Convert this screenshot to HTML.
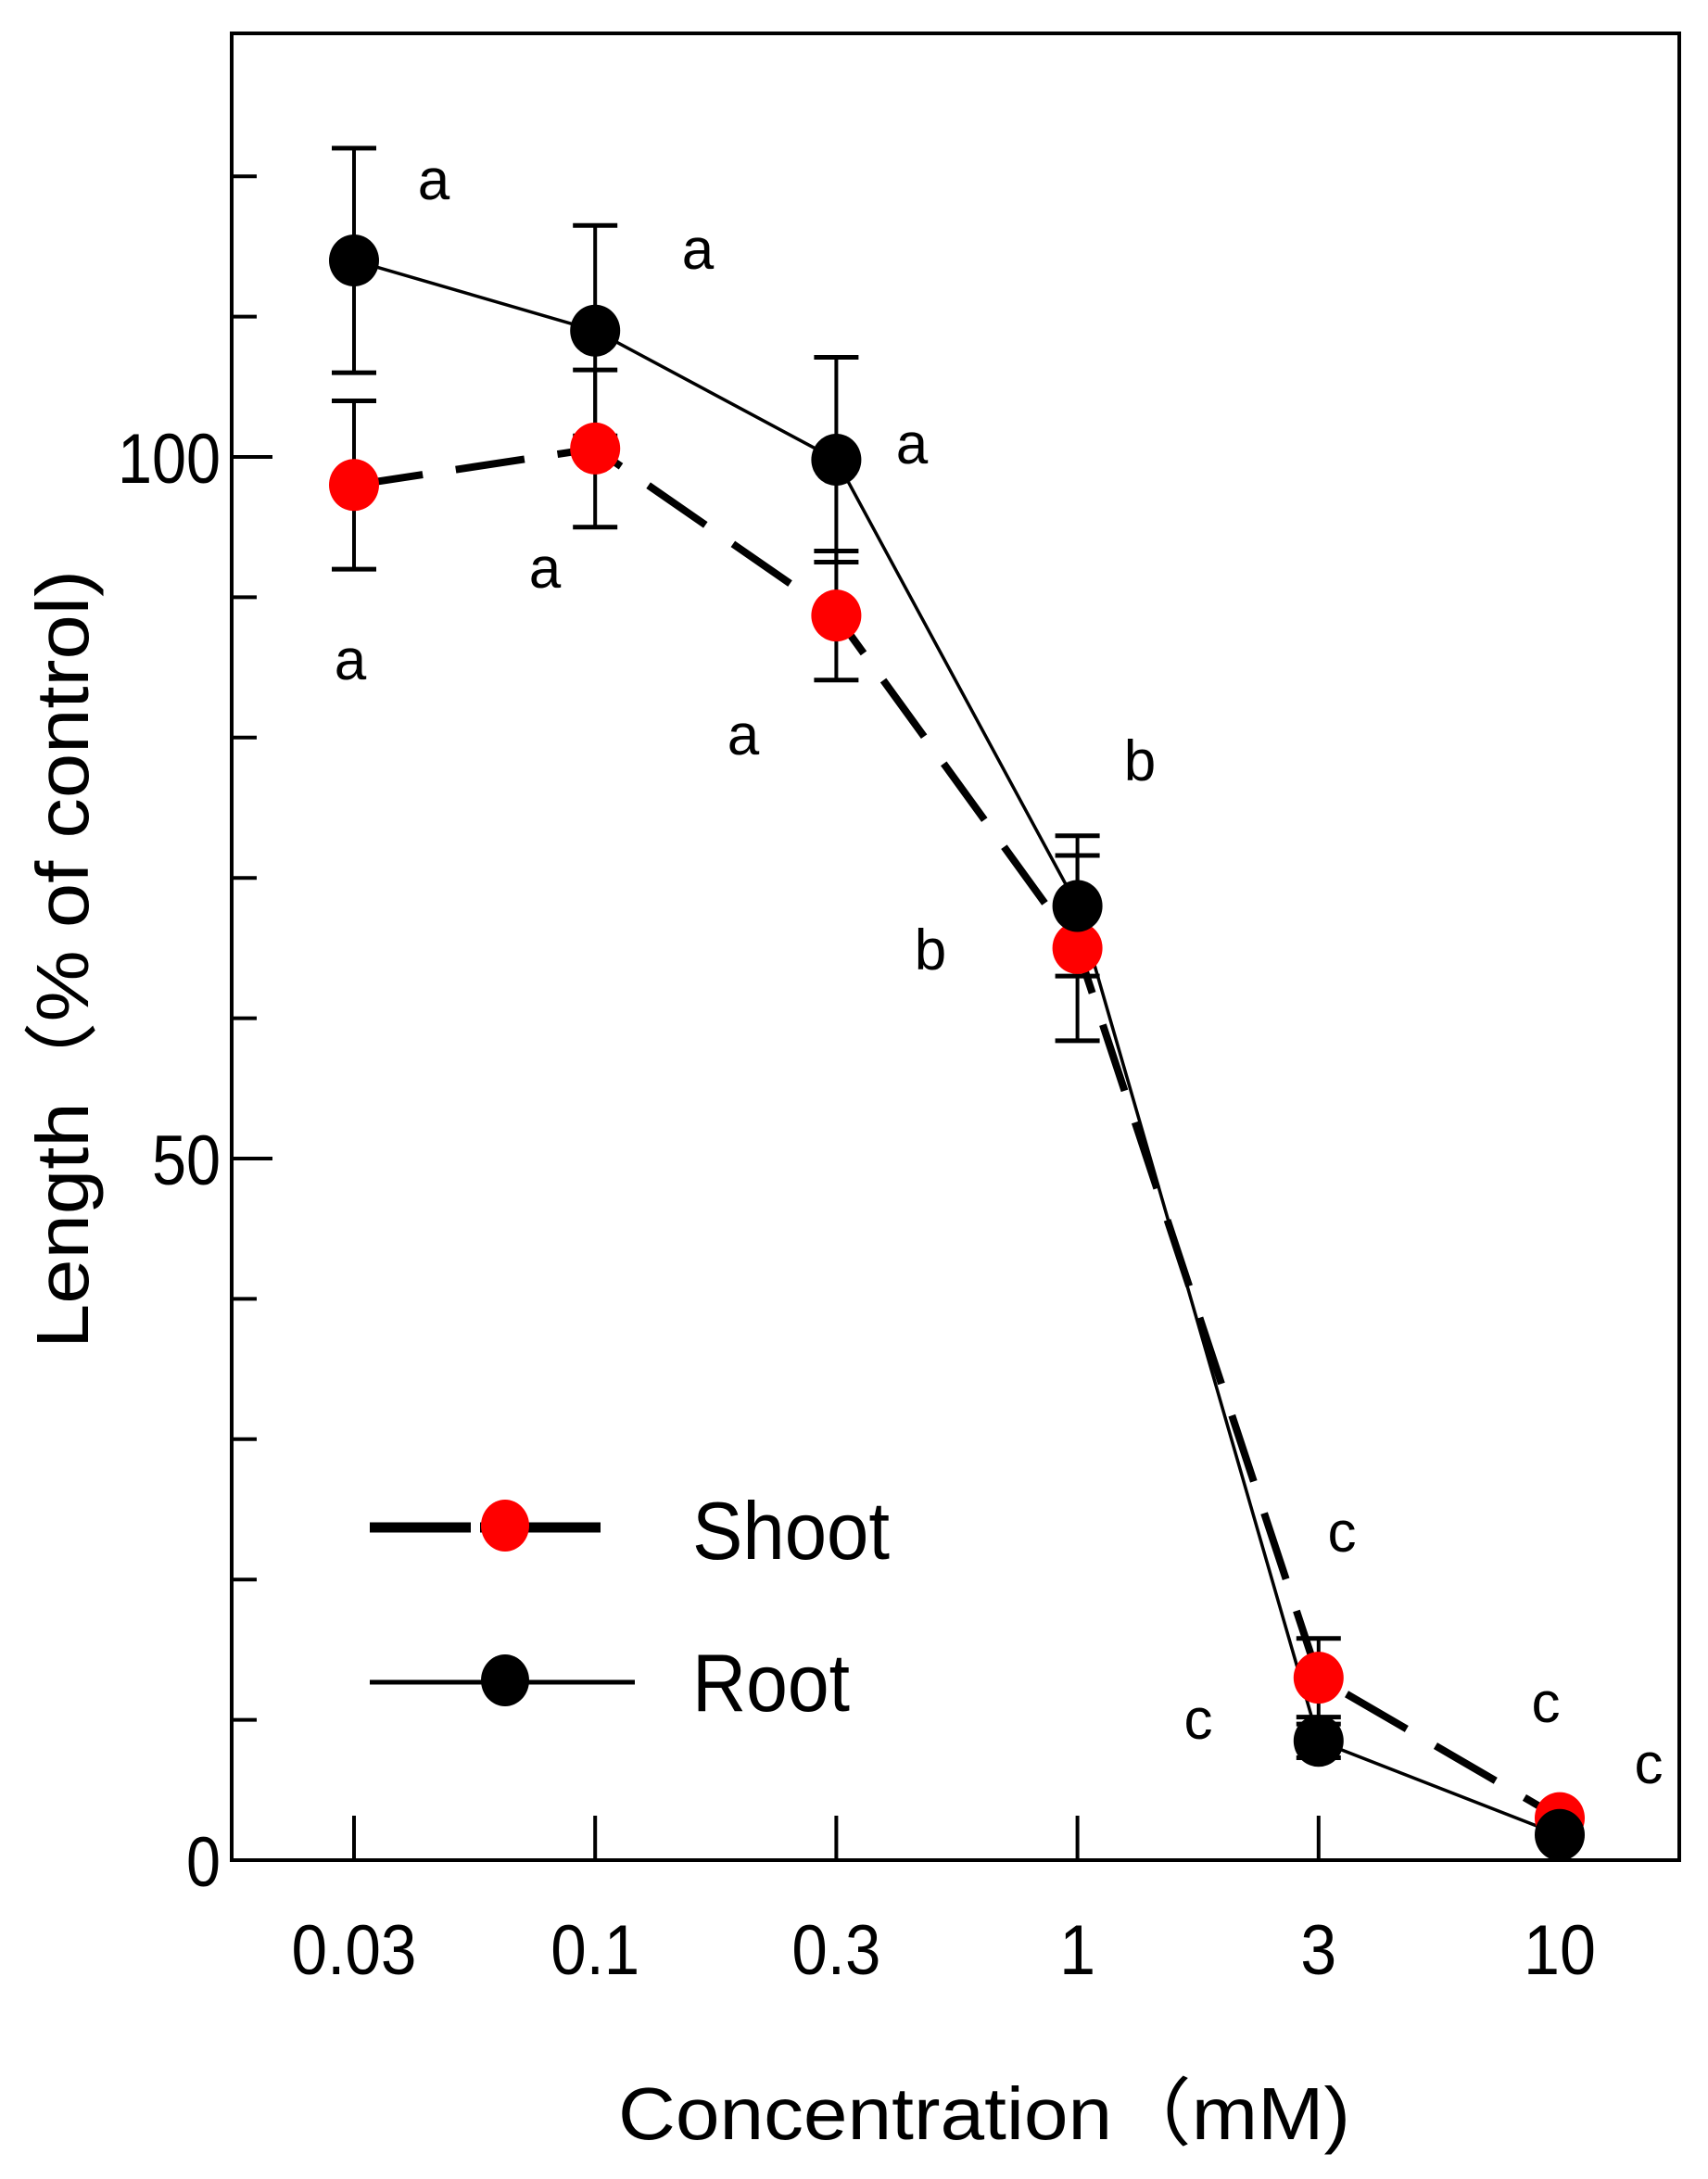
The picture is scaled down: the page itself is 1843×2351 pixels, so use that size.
<!DOCTYPE html>
<html><head><meta charset="utf-8"><style>body{margin:0;background:#fff}svg{display:block}text{font-family:"Liberation Sans","Noto Sans CJK JP",sans-serif;fill:#000}</style></head>
<body>
<svg id="chart" width="1843" height="2351" viewBox="0 0 1843 2351" xmlns="http://www.w3.org/2000/svg">
<g id="plot"></g>
</svg>
<script>
const categories = ["0.03","0.1","0.3","1","3","10"];
const shootValues = [98, 100.6, 88.7, 65.0, 13, 3];
const shootErrors = [6, 5.6, 4.6, 6.6, 2.8, 0.5];
const rootValues = [114, 109, 99.8, 68.0, 8.5, 1.8];
const rootErrors = [8, 7.5, 7.3, 5, 1.2, 0.3];
const shootLetters = ["a","a","a","b","c","c"];
const rootLetters = ["a","a","a","b","c","c"];
const yTickLabels = [0, 50, 100];
const yMinorTicks = [10,20,30,40,60,70,80,90,110,120];

const L=250,R=1812,T=36,B=2007;
const x0=382, dx=260.2;
function xs(i){return x0+i*dx;}
function ys(v){return B-v*15.14;}
const NS="http://www.w3.org/2000/svg";
const g=document.getElementById('plot');
function mk(tag,attrs,parent){const e=document.createElementNS(NS,tag);for(const k in attrs)e.setAttribute(k,attrs[k]);(parent||g).appendChild(e);return e;}

const fr=mk('rect',{x:L,y:T,width:R-L,height:B-T,fill:'none',stroke:'#000','stroke-width':4});



yTickLabels.forEach(v=>{
  const t=mk('line',{x1:L,x2:L+44,y1:ys(v),y2:ys(v),stroke:'#000','stroke-width':4});
  
  
  const s=String(v);
  const tx=mk('text',{x:L-12,y:ys(v)+28,'font-size':76,'text-anchor':'end',textLength:s.length*37,lengthAdjust:'spacingAndGlyphs'});
  tx.textContent=s;
  
  
});
yMinorTicks.forEach(v=>{
  const t=mk('line',{x1:L,x2:L+27,y1:ys(v),y2:ys(v),stroke:'#000','stroke-width':4});
  
  
});
categories.forEach((c,i)=>{
  const t=mk('line',{x1:xs(i),x2:xs(i),y1:B,y2:B-48,stroke:'#000','stroke-width':4});
  
  
  const w=c.replace('.','').length*39+(c.includes('.')?18:0);
  const tx=mk('text',{x:xs(i),y:2130,'font-size':76,'text-anchor':'middle',textLength:w,lengthAdjust:'spacingAndGlyphs'});
  tx.textContent=c;
  
  
});

function pts(vals){return vals.map((v,i)=>xs(i)+','+ys(v)).join(' ');}
const sl=mk('polyline',{points:pts(shootValues),fill:'none',stroke:'#000','stroke-width':8,'stroke-dasharray':'75 36'});


const rl=mk('polyline',{points:pts(rootValues),fill:'none',stroke:'#000','stroke-width':3.5});



function errs(vals,errsA,name){
  vals.forEach((v,i)=>{
    const x=xs(i),e=errsA[i];
    const eg=mk('g',{});
    
    
    mk('line',{x1:x,x2:x,y1:ys(v+e),y2:ys(v-e),stroke:'#000','stroke-width':4},eg);
    mk('line',{x1:x-24,x2:x+24,y1:ys(v+e),y2:ys(v+e),stroke:'#000','stroke-width':5},eg);
    mk('line',{x1:x-24,x2:x+24,y1:ys(v-e),y2:ys(v-e),stroke:'#000','stroke-width':5},eg);
  });
}
errs(shootValues,shootErrors,'shoot-error-bar');
errs(rootValues,rootErrors,'root-error-bar');

shootValues.forEach((v,i)=>{
  const m=mk('ellipse',{cx:xs(i),cy:ys(v),rx:27,ry:28,fill:'#ff0000'});
  
  
});
rootValues.forEach((v,i)=>{
  const m=mk('ellipse',{cx:xs(i),cy:ys(v),rx:27,ry:28,fill:'#000'});
  
  
});

const rootLetterPos=[[468,215],[753,290],[984,500],[1230,842],[1448,1674],[1668,1858]];
const shootLetterPos=[[378,733],[588,634],[802,814],[1004,1046],[1293,1876],[1779,1924]];
function letters(arr,pos,name){
  arr.forEach((s,i)=>{
    const t=mk('text',{x:pos[i][0],y:pos[i][1],'font-size':62,'text-anchor':'middle'});
    t.textContent=s;
    
    
  });
}
letters(rootLetters,rootLetterPos,'root-significance-letter');
letters(shootLetters,shootLetterPos,'shoot-significance-letter');

const lg=mk('g',{});


const le1=mk('g',{},lg);


mk('line',{x1:399,x2:648,y1:1648,y2:1648,stroke:'#000','stroke-width':11},le1);
mk('rect',{x:508,y:1640,width:10,height:16,fill:'#fff'},le1);
mk('ellipse',{cx:545,cy:1646,rx:26,ry:28,fill:'#ff0000'},le1);
const t1=mk('text',{x:747,y:1682,'font-size':88,textLength:213,lengthAdjust:'spacingAndGlyphs'},le1);t1.textContent='Shoot';
const le2=mk('g',{},lg);


mk('line',{x1:399,x2:685,y1:1815,y2:1815,stroke:'#000','stroke-width':5},le2);
mk('ellipse',{cx:545,cy:1813,rx:26,ry:28,fill:'#000'},le2);
const t2=mk('text',{x:747,y:1846,'font-size':88,textLength:170,lengthAdjust:'spacingAndGlyphs'},le2);t2.textContent='Root';

const yt=mk('text',{x:0,y:0,'font-size':80,'text-anchor':'middle',transform:'translate(95,1035) rotate(-90)',textLength:840,lengthAdjust:'spacingAndGlyphs'});
yt.textContent='Length（% of control)';


const xt=mk('text',{x:1062,y:2308,'font-size':80,'text-anchor':'middle',textLength:790,lengthAdjust:'spacingAndGlyphs'});
xt.textContent='Concentration（mM)';


</script>
</body></html>
